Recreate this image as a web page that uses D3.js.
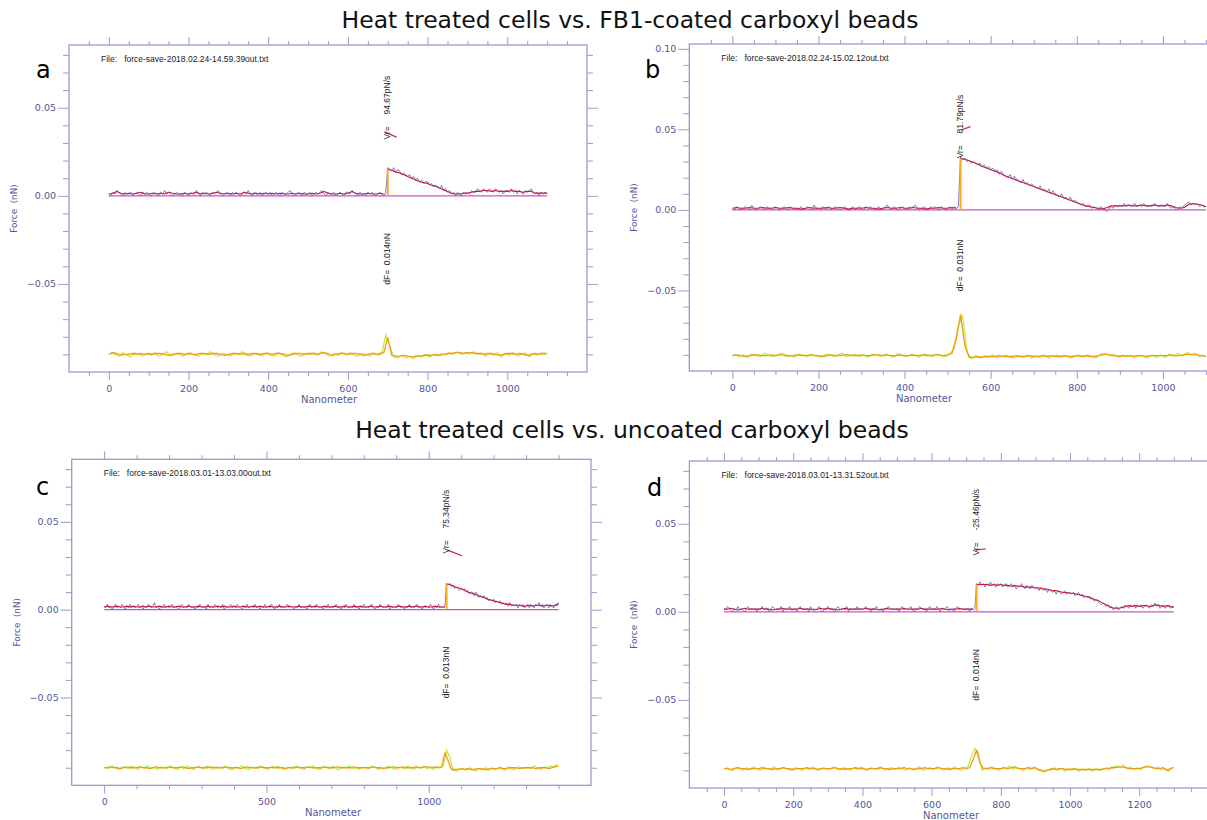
<!DOCTYPE html>
<html>
<head>
<meta charset="utf-8">
<script src="https://cdn.jsdelivr.net/npm/d3@7"></script>
<style>
  body { margin: 0; background: #fff; }
  svg { display: block; }
</style>
</head>
<body>
<svg id="fig" width="1207" height="820"></svg>
<script>
// ---------------- data ----------------
const groupTitles = [
  "Heat treated cells vs. FB1-coated carboxyl beads",
  "Heat treated cells vs. uncoated carboxyl beads"
];
const panelLetters = ["a", "b", "c", "d"];
const fileNames = [
  "force-save-2018.02.24-14.59.39out.txt",
  "force-save-2018.02.24-15.02.12out.txt",
  "force-save-2018.03.01-13.03.00out.txt",
  "force-save-2018.03.01-13.31.52out.txt"
];
const vrValues = [94.67, 81.79, 75.34, -25.46];   // loading rate, pN/s
const dfValues = [0.014, 0.031, 0.013, 0.014];    // force step, nN
const jumpNm = [700, 530, 1055, 730];             // position of the force step
const jumpBasePn = [1, 1, 1.5, 1.5];              // force just before the step, pN
const xMaxNm = [1200, 1200, 1500, 1400];
const yMaxNn = [0.0856, 0.103, 0.0856, 0.0856];
const xMajorStep = [200, 200, 500, 200];
const xMinorStep = [50, 50, 100, 50];

// sampling of the stored traces (nm)
const rawStepNm = 5, smoothStepNm = 10, diffRawStartNm = 5, diffStepNm = 10;

// Force traces in pN.  raw*: recorded force, smooth*: running average,
// diffRaw*/diffSmooth*: offset derivative trace used to locate the step.
const rawA = [
  1,0,2,1,3,2,1,0,2,1,1,2,0,1,2,1,0,2,1,2,
  1,0,1,2,1,0,2,1,3,1,2,1,0,1,2,1,1,0,2,1,
  0,2,1,1,3,1,0,2,1,2,1,0,2,1,2,3,1,0,1,2,
  1,0,2,1,2,1,0,1,2,1,3,1,0,2,1,1,2,0,1,2,
  1,2,0,1,2,1,0,2,1,1,2,3,1,0,1,2,1,0,2,1,
  1,2,0,1,2,1,2,3,1,0,2,1,1,2,0,1,2,1,0,2,
  2,1,3,2,1,0,2,1,1,0,2,1,2,1,0,1,2,1,0,2,
  16,15,14,16,13,15,14,12,13,12,11,12,10,11,9,10,8,9,7,8,
  8,6,7,5,6,5,4,6,3,4,2,3,1,2,0,2,1,0,2,1,
  2,1,3,2,2,4,3,2,4,3,2,4,3,2,4,3,2,3,1,3,
  3,2,4,2,3,1,3,2,1,3,2,3,4,2,1,2,0,2,1,2,
  1
];
const smoothA = [
  1,1.5,2.5,1.5,1,1.5,1,1.5,2,1,
  1,1.5,1,1.5,1,2,1.5,1,1,1.5,
  1,1.5,2,1,1.5,1,1.5,2,1.5,1,
  1.5,1,1.5,1,2,1.5,1,1.5,1,1.5,
  1,1.5,1,1.5,1,1,1.5,1,1.5,1,
  1,1.5,1,1.5,2.5,1.5,1,1,1.5,1,
  1.5,2.5,1.5,1,1,1.5,1,1,1.5,1,
  15,14.5,13.5,13,12,11,10,9,8,7.5,
  7,6,5.5,4.5,3.5,2.5,1.5,1,1,1.5,
  1.5,2,2.5,2.5,3,3,2.5,3,2.5,2.5,
  2.5,3,2.5,2.5,2,2.5,2.5,1.5,1.5,1.5,
  1.5
];
const diffSmoothA = [
  -90,-89,-89.5,-90.5,-90,-90,-89.5,-90,-89.5,-90,
  -89.5,-90,-89.5,-89.5,-90,-90.5,-90,-89.5,-89.5,-90,
  -89.5,-90,-90,-89.5,-89.5,-90,-89.5,-89.5,-90,-90.5,
  -90,-89.5,-89.5,-90,-89.5,-90,-89.5,-89.5,-90,-89.5,
  -89.5,-90,-89.5,-89.5,-90,-90.5,-90,-89.5,-89.5,-90,
  -89.5,-89.5,-90,-89.5,-89,-89.5,-90.5,-90,-89.5,-89.5,
  -90,-89.5,-89.5,-90,-90.5,-90,-89.5,-90,-89.5,-89,
  -80.5,-90.5,-91,-91,-90.5,-91,-91.5,-91,-91,-90.5,
  -90.5,-90.5,-90,-90.5,-90,-89.5,-89.5,-89,-89,-89.5,
  -89,-89,-89.5,-89.5,-90,-89.5,-89.5,-90,-90.5,-90,
  -89.5,-89.5,-90,-89.5,-90,-90.5,-90,-89.5,-90,-89.5,
  -89.5
];
const diffRawA = [
  -88.5,-90,-91,-89,-90.5,-91.5,-89,-90,-91,-89.5,
  -90.5,-89,-91,-90,-88.5,-91,-90,-89.5,-91,-90,
  -89,-90.5,-91,-89.5,-90,-88.5,-90.5,-91,-89.5,-90,
  -91,-89.5,-90,-88.5,-90.5,-91,-89.5,-90,-91,-89,
  -90.5,-91,-89,-90,-91.5,-90,-89,-90.5,-91,-89.5,
  -90,-89,-90.5,-88.5,-90,-91,-89.5,-90.5,-89,-90.5,
  -89,-90.5,-91,-89.5,-90,-91,-89,-90.5,-89.5,-79,
  -85,-91.5,-92,-90.5,-92,-91,-92.5,-90.5,-91.5,-90,
  -91.5,-90,-91,-89.5,-90.5,-89,-90,-88.5,-90,-89,
  -90,-88.5,-90,-89,-91,-89.5,-90.5,-89,-91.5,-89.5,
  -90.5,-89,-91,-90,-89,-91.5,-89.5,-90.5,-89,-90.5
];
const fitA = [[692, 36.2], [722, 33.3]];

const rawB = [
  1,0,2,1,0,1,2,1,0,3,1,0,1,2,1,0,2,1,1,0,
  2,1,0,1,2,1,0,2,1,1,0,1,2,0,1,2,1,0,3,1,
  1,0,2,1,1,2,0,1,2,1,0,1,2,1,0,1,2,0,1,2,
  1,0,2,1,2,1,0,1,2,0,1,2,3,1,0,2,1,0,1,2,
  1,0,2,1,2,3,1,0,1,2,1,0,2,1,2,1,0,2,1,0,
  1,2,0,2,1,2,
  33,31,32,30,31,29,30,29,28,29,27,28,26,27,
  25,26,24,25,22,24,22,21,20,22,19,21,19,18,17,19,16,17,15,16,
  15,14,13,15,12,13,11,13,10,12,10,9,8,10,7,8,6,8,5,6,
  5,4,3,4,2,3,3,1,2,1,0,2,1,0,-1,1,2,1,3,2,
  3,2,4,2,3,2,3,4,2,3,2,4,3,2,3,2,4,3,2,3,
  3,2,4,2,1,2,0,1,2,1,3,4,5,3,4,3,4,2,3,2,
  2
];
const smoothB = [
  1,1.5,1,1,1.5,1,1,1.5,1,1,
  1.5,1,1,1.5,1,1,0.5,1,1.5,1,
  1,1,1.5,1,1,1.5,1,0.5,1,1,
  1,1.5,1,1,0.5,1,1.5,1,1,1.5,
  1,1,1.5,1,1,0.5,1,1,1.5,1,
  1,1.5,1,32,31.5,30.5,29.5,28.5,27,26,
  25,24,23,21.5,20.5,19.5,18.5,17.5,16.5,15.5,
  14.5,13.5,12.5,11.5,10.5,9.5,8.5,7.5,6.5,5.5,
  4.5,3.5,2.5,2,1.5,1,0.5,1.5,2.5,2.5,
  2.5,2.5,3,2.5,2.5,3,2.5,2.5,3,2.5,
  2.5,3,2.5,1.5,1,1.5,3.5,4,3.5,3,
  2
];
const diffSmoothB = [
  -90.5,-90,-90.5,-91,-90.5,-90,-90,-90.5,-90.5,-90,
  -90.5,-90,-90,-90.5,-90.5,-90,-90.5,-90.5,-90,-90.5,
  -90.5,-91,-90.5,-90,-90.5,-90.5,-90,-90,-90.5,-90.5,
  -90,-90.5,-90.5,-90,-90,-90.5,-90,-90.5,-90.5,-90,
  -90.5,-90.5,-90,-90.5,-90,-90.5,-90.5,-90,-90,-90.5,
  -90,-89,-80,-65,-84,-91.5,-91.5,-91,-91.5,-91,
  -91,-91,-90.5,-91,-91,-91,-90.5,-91,-91,-90.5,
  -91,-91,-90.5,-91,-90.5,-91,-91,-90.5,-91,-91,
  -90.5,-91,-90.5,-91,-91,-90.5,-90,-89.5,-90.5,-90.5,
  -91,-90.5,-90.5,-91,-90.5,-90.5,-91,-90.5,-90.5,-90.5,
  -90.5,-90.5,-90,-90.5,-90.5,-90,-89.5,-90,-90,-90.5,
  -91
];
const diffRawB = [
  -89.5,-91,-90,-91.5,-89.5,-90.5,-91,-89,-90.5,-91,
  -90,-89,-91,-90.5,-91.5,-89.5,-90,-91,-89.5,-90.5,
  -91.5,-90,-89.5,-91,-90,-89,-91,-90.5,-89.5,-91,
  -90,-91.5,-89.5,-90,-91,-89.5,-90.5,-91.5,-89,-90.5,
  -91,-89.5,-90.5,-91.5,-89.5,-90,-91,-89.5,-90.5,-91,
  -89.5,-86,-72,-66,-88,-92.5,-90.5,-92,-90.5,-91.5,
  -90,-92,-91,-90,-91.5,-92,-90.5,-91.5,-90,-92,
  -90.5,-91.5,-90,-92,-91,-90,-91.5,-90.5,-92,-91,
  -90,-91.5,-90,-91,-92,-89.5,-89,-90.5,-89.5,-91.5,
  -90,-91.5,-90,-92,-90.5,-91,-92,-90,-91.5,-90,
  -91.5,-89.5,-91,-89,-90.5,-88.5,-90,-89,-91,-90
];
const fitB = [[531, 49.6], [553, 51.7]];

const rawC = [
  2,1,3,1,2,0,2,3,1,2,1,3,2,0,2,1,3,1,2,1,
  2,3,1,2,0,2,1,3,2,1,2,4,1,2,0,2,1,3,1,2,
  1,2,3,1,2,1,0,2,3,1,2,1,3,2,1,2,0,2,1,3,
  2,1,2,0,3,1,2,1,3,2,1,2,1,3,0,2,1,2,3,1,
  2,1,3,2,1,0,2,1,3,1,2,2,1,3,1,2,0,2,1,3,
  1,2,1,3,2,0,2,1,3,1,2,1,2,3,1,2,1,0,2,1,
  3,1,2,1,2,0,2,3,1,2,1,3,2,1,2,0,2,1,3,1,
  2,1,2,3,1,2,0,2,1,3,2,1,2,1,3,1,2,0,2,1,
  3,1,2,1,2,3,1,0,2,1,3,2,1,2,1,3,0,2,1,2,
  1,3,2,1,2,0,2,1,3,1,2,1,2,3,1,2,0,2,1,2,
  1,3,2,0,2,1,3,1,2,1,2,
  15,14,15,13,14,12,13,12,11,
  12,11,12,10,11,9,10,10,8,10,9,7,8,7,8,6,7,5,6,5,
  6,4,5,4,5,3,4,3,4,2,4,2,3,2,3,1,3,2,3,1,
  2,3,1,3,2,1,3,2,4,2,3,1,2,3,1,3,2,1,3,2,
  4
];
const smoothC = [
  1.5,2,1.5,1.5,2,1.5,1.5,2,1.5,2,
  1.5,1.5,2,1.5,2,1.5,1.5,2,1.5,1.5,
  2,1.5,1.5,2,1.5,1.5,2,1.5,1.5,2,
  1.5,1.5,2,1.5,1.5,2,1.5,2,1.5,1.5,
  2,1.5,1.5,2,1.5,1.5,2,1.5,2,1.5,
  1.5,2,1.5,1.5,2,1.5,1.5,2,1.5,1.5,
  2,1.5,1.5,2,1.5,2,1.5,1.5,2,1.5,
  1.5,2,1.5,1.5,2,1.5,1.5,2,1.5,2,
  1.5,1.5,2,1.5,1.5,2,1.5,1.5,2,1.5,
  1.5,2,1.5,1.5,2,1.5,2,1.5,1.5,2,
  1.5,1.5,2,1.5,1.5,1.5,
  14.5,14,13,12.5,12,11,10,9.5,9,8,
  7.5,7,6,5.5,5,4.5,4,3.5,3,3,
  2.5,2.5,2.5,2,2,2.5,2,2.5,2.5,2,
  2.5,2.5,2,2.5,3.5
];
const diffSmoothC = [
  -90,-90,-89.5,-90,-90,-90.5,-90,-89.5,-90,-90,
  -90,-89.5,-90,-90,-90.5,-90,-89.5,-90,-90,-90,
  -89.5,-90,-90,-90,-89.5,-90,-90.5,-90,-90,-89.5,
  -90,-90,-90,-89.5,-90,-90,-90,-89.5,-90,-90,
  -90,-90,-90.5,-90,-89.5,-90,-90,-90,-89.5,-90,
  -90,-90,-89.5,-90,-90,-90,-90.5,-90,-90,-89.5,
  -90,-90,-90,-89.5,-90,-90,-90,-90,-89.5,-90,
  -90,-90,-89.5,-90,-90,-90,-90,-89.5,-90,-90,
  -90,-90,-90,-89.5,-90,-90,-90.5,-90,-90,-89.5,
  -90,-90,-89.5,-90,-90,-90,-89.5,-90,-90,-89.5,
  -89.5,-90,-89.5,-90,-89.5,-81.5,-86,-91,-91,-91,
  -90.5,-91,-90.5,-91,-91,-90.5,-90.5,-91,-91,-90.5,
  -90.5,-90.5,-90,-90.5,-90.5,-90,-90,-90,-90.5,-90,
  -90,-90,-90,-90.5,-90,-90,-90,-90.5,-90,-89.5,
  -89
];
const diffRawC = [
  -89.5,-90.5,-89,-90,-91,-89.5,-90,-90.5,-89,-90,
  -91,-89.5,-90,-89,-90.5,-90,-91,-89.5,-90,-90.5,
  -89,-90,-91,-89.5,-90.5,-89,-90,-91,-89.5,-90,
  -90.5,-89,-90,-91,-89.5,-90,-90.5,-89,-90.5,-91,
  -89.5,-90,-89,-90.5,-91,-89.5,-90,-90.5,-89,-90,
  -91,-89.5,-90.5,-89,-90,-91,-89.5,-90,-90.5,-89,
  -90,-91,-89.5,-90,-89,-90.5,-91,-89.5,-90,-90.5,
  -89,-90.5,-91,-89.5,-90,-89,-90.5,-90,-91,-89.5,
  -90,-90.5,-89,-90,-91,-89.5,-90.5,-89,-90,-91,
  -89.5,-90,-90.5,-89,-90,-91,-89.5,-90,-89,-90.5,
  -90,-91,-89.5,-90,-89,-80,-84,-91.5,-92,-91,
  -90.5,-91.5,-90,-91,-92,-90.5,-91,-90,-91.5,-90,
  -91,-90,-90.5,-91.5,-89.5,-90.5,-91,-89.5,-90,-90.5,
  -89.5,-90.5,-89,-90,-91,-89.5,-90,-89,-89.5,-88
];
const fitC = [[1058, 33.9], [1102, 30.7]];

const rawD = [
  2,1,3,2,1,0,2,1,3,1,2,1,0,2,3,1,2,1,2,0,
  2,1,3,1,2,2,0,1,3,2,1,2,1,3,0,2,1,2,3,1,
  1,2,0,2,3,1,2,1,2,0,3,1,2,1,2,3,1,0,2,1,
  3,1,2,1,0,2,3,1,2,2,1,3,0,2,1,2,1,3,1,2,
  1,2,3,1,2,0,2,1,3,2,1,2,0,2,1,3,2,1,2,1,
  2,0,2,3,1,2,1,2,3,1,0,2,1,3,2,1,2,0,2,3,
  1,2,1,3,2,0,2,1,2,3,1,2,1,0,2,3,1,2,1,2,
  1,2,0,2,1,2,
  16,15,17,15,16,14,16,15,17,15,16,14,16,15,
  16,14,15,16,14,15,16,14,15,13,15,14,16,14,13,15,14,13,15,14,
  13,14,12,14,13,12,13,11,13,12,11,12,10,12,11,10,11,12,10,11,
  11,10,11,9,10,11,9,10,8,9,8,9,7,8,6,7,6,5,4,5,
  4,3,4,2,3,1,2,3,1,2,3,2,4,3,2,4,3,4,2,4,
  3,4,2,3,4,3,2,4,3,5,3,4,2,3,4,2,3,4,2,3,
  3
];
const smoothD = [
  1.5,1.5,2,1.5,1,1.5,2,1.5,1.5,1.5,
  1.5,2,1.5,1.5,1,1.5,1.5,2,1.5,1.5,
  1.5,1.5,2,1.5,1.5,1.5,1,1.5,2,1.5,
  2,1.5,1.5,1,1.5,2,1.5,1.5,1.5,1.5,
  1.5,2,1.5,1.5,1.5,1,1.5,2,1.5,1.5,
  1.5,1.5,2,1.5,1.5,1.5,1.5,2,1.5,1.5,
  1.5,1.5,1.5,2,1.5,1,1.5,1.5,2,1.5,
  1.5,1.5,1.5,15.5,
  15.5,15.5,15.5,15,15.5,15,15.5,15,15,14.5,15,14.5,14.5,14,14,14,13.5,
  13.5,13,13,12.5,12,12,11.5,11,11,10.5,
  10.5,10,9.5,9,8.5,8,7,6.5,5.5,4.5,
  3.5,2.5,2,2,2.5,3,3.5,3,3.5,3,
  3.5,3.5,3,3.5,4,3.5,3,3.5,3,2.5
];
const diffSmoothD = [
  -89,-89,-89.5,-89,-88.5,-89,-89,-89.5,-89,-89,
  -89,-88.5,-89,-89,-89.5,-89,-89,-88.5,-89,-89,
  -89.5,-89,-89,-89,-88.5,-89,-89,-89.5,-89,-89,
  -89,-89,-88.5,-89,-89,-89.5,-89,-89,-88.5,-89,
  -89,-89.5,-89,-89,-89,-88.5,-89,-89,-89.5,-89,
  -89,-89,-88.5,-89,-89,-89.5,-89,-89,-88.5,-89,
  -89,-89,-88.5,-89,-89,-89.5,-89,-89,-89,-88.5,
  -89,-88.5,-84,-78.5,-86,-89,-89,-88.5,-89,-89,
  -89,-88.5,-89,-88.5,-88,-89,-89,-89,-88.5,-89,
  -88.5,-89.5,-90,-90.5,-89.5,-89,-89.5,-89,-89,-89.5,
  -89.5,-89,-89.5,-89.5,-89.5,-89.5,-89.5,-89.5,-89.5,-89.5,
  -89,-89,-88.5,-88.5,-88,-88,-88.5,-89,-89,-89,
  -89,-88.5,-88,-88,-88.5,-89,-89,-88.5,-90,-89,
  -88.5
];
const diffRawD = [
  -88,-89.5,-90,-88.5,-89,-90,-88.5,-89.5,-88,-89,
  -90,-88.5,-89,-89.5,-88,-90,-89,-88.5,-89.5,-90,
  -88.5,-89,-90,-88.5,-89.5,-88,-89,-90,-88.5,-89,
  -89.5,-88,-89,-90,-88.5,-89,-90,-88.5,-89.5,-88,
  -89,-90,-88.5,-89,-89.5,-88,-90,-89,-88.5,-89.5,
  -88,-89,-90,-88.5,-89.5,-89,-88,-90,-89,-88.5,
  -89.5,-88,-89,-90,-88.5,-89.5,-88,-89,-90,-88.5,
  -88,-82,-77.5,-80,-90,-88.5,-89.5,-88,-89,-90,
  -88.5,-89,-87.5,-89.5,-88.5,-89,-90,-88.5,-89.5,-88,
  -89.5,-90.5,-91,-89.5,-90,-88.5,-90,-89,-90.5,-89,
  -90,-89,-90.5,-89.5,-90,-89,-90.5,-89,-90,-89.5,
  -88.5,-89.5,-88,-87.5,-88.5,-87,-89,-88,-89.5,-88.5,
  -89.5,-88,-87.5,-88.5,-89,-88,-89.5,-89,-90.5,-88.5
];
const fitD = [[727, 35.0], [757, 35.8]];

// ---------------- layout & style ----------------
const traces = [
  { raw: rawA, smooth: smoothA, diffRaw: diffRawA, diffSmooth: diffSmoothA, fit: fitA },
  { raw: rawB, smooth: smoothB, diffRaw: diffRawB, diffSmooth: diffSmoothB, fit: fitB },
  { raw: rawC, smooth: smoothC, diffRaw: diffRawC, diffSmooth: diffSmoothC, fit: fitC },
  { raw: rawD, smooth: smoothD, diffRaw: diffRawD, diffSmooth: diffSmoothD, fit: fitD }
];
const frames = [
  { left: 69,    top: 45,    right: 587,    bottom: 372,   letterX: 36,  letterY: 78,  xTitleX: 329 },
  { left: 689.3, top: 44,    right: 1249,   bottom: 371,   letterX: 645, letterY: 78,  xTitleX: 924 },
  { left: 71.7,  top: 459.3, right: 591,    bottom: 785.3, letterX: 36,  letterY: 495, xTitleX: 333 },
  { left: 689.4, top: 461,   right: 1208.4, bottom: 788,   letterX: 647, letterY: 496, xTitleX: 951 }
];
const COL = {
  axis: "#9b9bcc", tickText: "#55559a",
  raw: "#6464c8", smooth: "#c41e3a", zero: "#c058c4",
  diffRaw: "#bdec3c", diffSmooth: "#f39a12", step: "#ffa726", fit: "#d0185a",
  note: "#222"
};
const AXIS_FONT = "'DejaVu Sans', sans-serif";
const NOTE_FONT = "'Liberation Sans', Arial, sans-serif";

const svg = d3.select("#fig");
svg.append("rect").attr("width", 1207).attr("height", 820).attr("fill", "#fff");

// group headings
svg.append("text").attr("x", 630).attr("y", 28).attr("text-anchor", "middle")
  .attr("font-family", AXIS_FONT).attr("font-size", 23.5).attr("fill", "#111")
  .text(groupTitles[0]);
svg.append("text").attr("x", 632).attr("y", 438).attr("text-anchor", "middle")
  .attr("font-family", AXIS_FONT).attr("font-size", 23.5).attr("fill", "#111")
  .text(groupTitles[1]);

function styleAxis(g) {
  g.select(".domain").remove();
  g.selectAll(".tick line").attr("stroke", COL.axis).attr("stroke-width", 1);
  g.selectAll(".tick text").attr("fill", COL.tickText)
    .attr("font-family", AXIS_FONT).attr("font-size", 9.5);
}

function drawPanel(i) {
  const f = frames[i];
  const t = traces[i];
  const x = d3.scaleLinear().domain([-100, xMaxNm[i]]).range([f.left, f.right]);
  const y = d3.scaleLinear().domain([-0.1, yMaxNn[i]]).range([f.bottom, f.top]);
  const py = pn => y(pn / 1000);
  const g = svg.append("g");

  // tick values: minor every 0.01 nN, labelled every 0.05 nN
  const yMinor = [], yMajor = [];
  for (let k = -9; k / 100 < yMaxNn[i]; k++) {
    (k % 5 === 0 ? yMajor : yMinor).push(k / 100);
  }
  const xMajor = d3.range(0, xMaxNm[i], xMajorStep[i]);
  const xMinor = d3.range(-100 + xMinorStep[i], xMaxNm[i], xMinorStep[i])
    .filter(v => v % xMajorStep[i] !== 0);

  // axes on all four sides, ticks pointing outward
  g.append("g").attr("transform", `translate(${f.left},0)`)
    .call(d3.axisLeft(y).tickValues(yMinor).tickSize(6).tickFormat("")).call(styleAxis);
  g.append("g").attr("transform", `translate(${f.left},0)`)
    .call(d3.axisLeft(y).tickValues(yMajor).tickSize(11).tickPadding(2).tickFormat(d3.format(".2f"))).call(styleAxis);
  g.append("g").attr("transform", `translate(${f.right},0)`)
    .call(d3.axisRight(y).tickValues(yMinor).tickSize(6).tickFormat("")).call(styleAxis);
  g.append("g").attr("transform", `translate(${f.right},0)`)
    .call(d3.axisRight(y).tickValues(yMajor).tickSize(11).tickFormat("")).call(styleAxis);
  g.append("g").attr("transform", `translate(0,${f.bottom})`)
    .call(d3.axisBottom(x).tickValues(xMinor).tickSize(4).tickFormat("")).call(styleAxis);
  g.append("g").attr("transform", `translate(0,${f.bottom})`)
    .call(d3.axisBottom(x).tickValues(xMajor).tickSize(8).tickPadding(5).tickFormat(d3.format("d"))).call(styleAxis);
  g.append("g").attr("transform", `translate(0,${f.top})`)
    .call(d3.axisTop(x).tickValues(xMinor).tickSize(4).tickFormat("")).call(styleAxis);
  g.append("g").attr("transform", `translate(0,${f.top})`)
    .call(d3.axisTop(x).tickValues(xMajor).tickSize(8).tickFormat("")).call(styleAxis);

  g.append("rect").attr("x", f.left).attr("y", f.top)
    .attr("width", f.right - f.left).attr("height", f.bottom - f.top)
    .attr("fill", "none").attr("stroke", COL.axis).attr("stroke-width", 1.3);

  // axis titles
  g.append("text").attr("x", f.xTitleX).attr("y", f.bottom + 31).attr("text-anchor", "middle")
    .attr("font-family", AXIS_FONT).attr("font-size", 10).attr("fill", COL.tickText)
    .text("Nanometer");
  g.append("text")
    .attr("transform", `translate(${f.left - 52},${(f.top + f.bottom) / 2}) rotate(-90)`)
    .attr("text-anchor", "middle").attr("font-family", AXIS_FONT).attr("font-size", 8.8)
    .attr("fill", COL.tickText).style("white-space", "pre")
    .text("Force  (nN)");

  // panel letter and file name
  svg.append("text").attr("x", f.letterX).attr("y", f.letterY)
    .attr("font-family", AXIS_FONT).attr("font-size", 24).attr("fill", "#000")
    .text(panelLetters[i]);
  g.append("text").attr("x", f.left + 32).attr("y", f.top + 17)
    .attr("font-family", NOTE_FONT).attr("font-size", 8.5).attr("fill", COL.note)
    .style("white-space", "pre")
    .text("File:   " + fileNames[i]);

  // traces
  const line = d3.line().x(d => x(d[0])).y(d => py(d[1]));
  const rawPts = t.raw.map((v, k) => [k * rawStepNm, v]);
  const smoothPts = t.smooth.map((v, k) => [k * smoothStepNm, v]);
  const diffRawPts = t.diffRaw.map((v, k) => [diffRawStartNm + k * diffStepNm, v]);
  const diffSmoothPts = t.diffSmooth.map((v, k) => [k * diffStepNm, v]);
  const endNm = rawPts[rawPts.length - 1][0];
  const stepTop = jumpBasePn[i] + dfValues[i] * 1000;

  g.append("path").datum([[0, 0], [endNm, 0]]).attr("d", line)
    .attr("fill", "none").attr("stroke", COL.zero).attr("stroke-width", 1.2);
  g.append("path").datum(rawPts).attr("d", line)
    .attr("fill", "none").attr("stroke", COL.raw).attr("stroke-width", 1)
    .attr("stroke-opacity", 0.85);
  const pre = smoothPts.filter(d => d[0] < jumpNm[i]);
  const post = [[jumpNm[i], stepTop]].concat(smoothPts.filter(d => d[0] > jumpNm[i]));
  [pre, post].forEach(seg => {
    g.append("path").datum(seg).attr("d", line)
      .attr("fill", "none").attr("stroke", COL.smooth).attr("stroke-width", 1.1)
      .attr("stroke-linejoin", "round");
  });
  g.append("path").datum(diffRawPts).attr("d", line)
    .attr("fill", "none").attr("stroke", COL.diffRaw).attr("stroke-width", 1.2);
  g.append("path").datum(diffSmoothPts).attr("d", line)
    .attr("fill", "none").attr("stroke", COL.diffSmooth).attr("stroke-width", 1.3)
    .attr("stroke-linejoin", "round");
  g.append("path").datum([[jumpNm[i], jumpBasePn[i] - 1], [jumpNm[i], stepTop]]).attr("d", line)
    .attr("fill", "none").attr("stroke", COL.step).attr("stroke-width", 2);
  g.append("path").datum(t.fit).attr("d", line)
    .attr("fill", "none").attr("stroke", COL.fit).attr("stroke-width", 1.2);

  // annotations
  const ax = x(jumpNm[i]) + 2;
  g.append("text")
    .attr("transform", `translate(${ax},${py(32)}) rotate(-90)`)
    .attr("font-family", NOTE_FONT).attr("font-size", 8.5).attr("fill", COL.note)
    .style("white-space", "pre")
    .text("Vr=     " + vrValues[i].toFixed(2) + "pN/s");
  g.append("text")
    .attr("transform", `translate(${ax},${py(-50.5)}) rotate(-90)`)
    .attr("font-family", NOTE_FONT).attr("font-size", 8.5).attr("fill", COL.note)
    .style("white-space", "pre")
    .text("dF=  " + dfValues[i].toFixed(3) + "nN");
}

[0, 1, 2, 3].forEach(drawPanel);
</script>
</body>
</html>
